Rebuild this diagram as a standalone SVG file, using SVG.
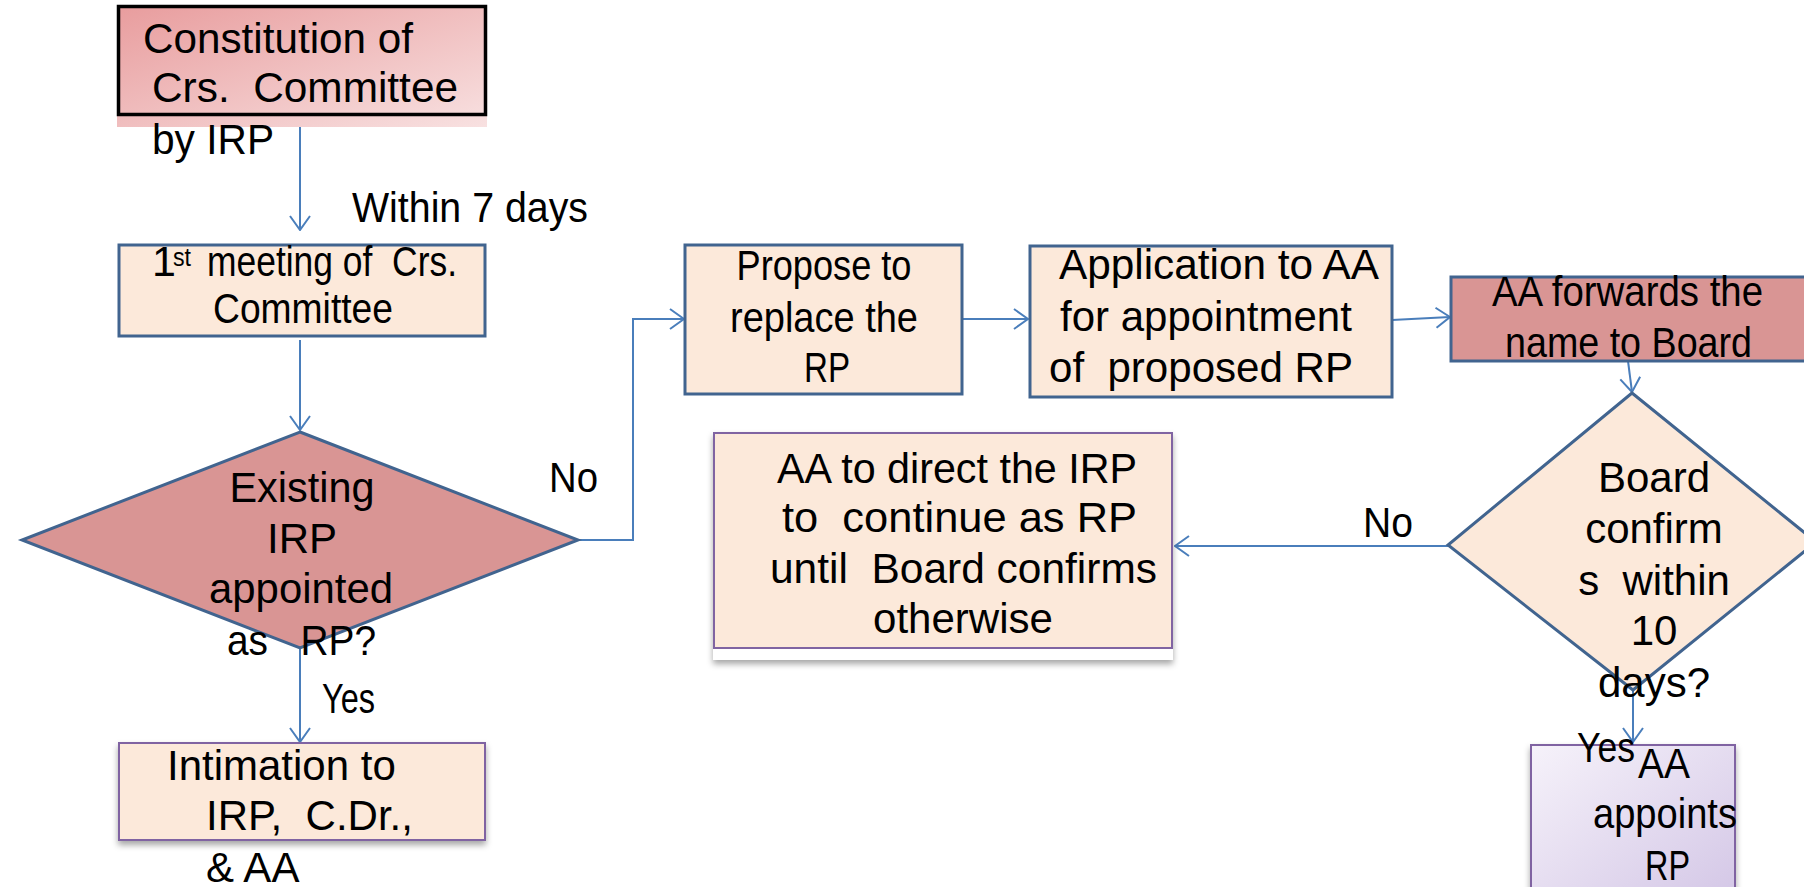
<svg xmlns="http://www.w3.org/2000/svg" width="1804" height="887" viewBox="0 0 1804 887">
<style>
text{font-family:"Liberation Sans",Arial,sans-serif;fill:#000;font-size:42px}
.c40{font-size:43px}
.mid{text-anchor:middle}
.conn{fill:none;stroke:#4a7ebb;stroke-width:2;marker-end:url(#arr)}
.peach{fill:#fce9da}
.blue{stroke:#41648f;stroke-width:3}
.purp{stroke:#8064a2;stroke-width:2}
.rose{fill:#d99594}
</style>
<defs>
<marker id="arr" viewBox="0 0 16 22" refX="15" refY="11" markerWidth="16" markerHeight="22" markerUnits="userSpaceOnUse" orient="auto">
<path d="M1,1 L15,11 L1,21" fill="none" stroke="#4a7ebb" stroke-width="2"/>
</marker>
<linearGradient id="gPink" x1="0" y1="0" x2="1" y2="1">
<stop offset="0" stop-color="#e89c9d"/>
<stop offset="1" stop-color="#f8e1e1"/>
</linearGradient>
<linearGradient id="gLav" x1="0" y1="0" x2="1" y2="1">
<stop offset="0" stop-color="#f6f2fa"/>
<stop offset="1" stop-color="#d3c6e6"/>
</linearGradient>
<filter id="sh" x="-10%" y="-10%" width="120%" height="130%">
<feDropShadow dx="0" dy="4" stdDeviation="3" flood-color="#000" flood-opacity="0.35"/>
</filter>
</defs>

<g id="connectors">
<path class="conn" d="M300,127 L300,230"/>
<path class="conn" d="M300,340 L300,430"/>
<path class="conn" d="M300,648 L300,742"/>
<path class="conn" d="M578,540 L633,540 L633,319 L684,319"/>
<path class="conn" d="M962,319 L1028,319"/>
<path class="conn" d="M1392,320 L1450,317"/>
<path class="conn" d="M1628,361 L1632,392"/>
<path class="conn" d="M1448,546 L1175,546"/>
<path class="conn" d="M1633,690 L1633,742"/>
</g>

<g id="constitution">
<rect x="117" y="5" width="370" height="122" fill="url(#gPink)"/>
<rect x="118.5" y="6.5" width="367" height="108" fill="none" stroke="#000" stroke-width="3.5"/>
<text x="143" y="53" textLength="270" lengthAdjust="spacingAndGlyphs">Constitution of</text>
<text x="152" y="102" textLength="306" lengthAdjust="spacingAndGlyphs">Crs.&#160; Committee</text>
<text x="152" y="154" textLength="122" lengthAdjust="spacingAndGlyphs">by IRP</text>
</g>

<g id="label-within">
<text x="352" y="222" textLength="236" lengthAdjust="spacingAndGlyphs">Within 7 days</text>
</g>

<g id="first-meeting">
<rect class="peach blue" x="119" y="245" width="366" height="91"/>
<text class="c40" x="152" y="276">1</text>
<text x="173" y="266" style="font-size:25px" textLength="18" lengthAdjust="spacingAndGlyphs">st</text>
<text class="c40" x="207" y="276" textLength="250" lengthAdjust="spacingAndGlyphs">meeting of&#160; Crs.</text>
<text class="c40 mid" x="303" y="323" textLength="180" lengthAdjust="spacingAndGlyphs">Committee</text>
</g>

<g id="decision-existing">
<polygon class="rose blue" points="300,432 578,540 300,648 22,540"/>
<text class="mid" x="302" y="502" textLength="145" lengthAdjust="spacingAndGlyphs">Existing</text>
<text class="mid" x="302" y="553">IRP</text>
<text class="mid" x="301" y="603" textLength="184" lengthAdjust="spacingAndGlyphs">appointed</text>
<text x="227" y="655" textLength="149" lengthAdjust="spacingAndGlyphs">as&#160;&#160; RP?</text>
</g>

<g id="label-yes1"><text class="c40" x="322" y="713" textLength="53" lengthAdjust="spacingAndGlyphs">Yes</text></g>
<g id="label-no1"><text class="c40" x="549" y="492" textLength="49" lengthAdjust="spacingAndGlyphs">No</text></g>

<g id="intimation">
<rect class="peach purp" x="119" y="743" width="366" height="97" filter="url(#sh)"/>
<text x="167" y="780">Intimation to</text>
<text x="206" y="830">IRP,&#160; C.Dr.,</text>
<text x="206" y="882">&amp; AA</text>
</g>

<g id="propose">
<rect class="peach blue" x="685" y="245" width="277" height="149"/>
<text class="c40 mid" x="824" y="280" textLength="175" lengthAdjust="spacingAndGlyphs">Propose to</text>
<text class="c40 mid" x="824" y="332" textLength="188" lengthAdjust="spacingAndGlyphs">replace the</text>
<text class="c40 mid" x="827" y="382" textLength="46" lengthAdjust="spacingAndGlyphs">RP</text>
</g>

<g id="application">
<rect class="peach blue" x="1030" y="246" width="362" height="151"/>
<text x="1059" y="279" textLength="320" lengthAdjust="spacingAndGlyphs">Application to AA</text>
<text x="1060" y="331">for appointment</text>
<text x="1049" y="382" textLength="304" lengthAdjust="spacingAndGlyphs">of&#160; proposed RP</text>
</g>

<g id="aa-forwards">
<rect class="rose blue" x="1451" y="277" width="365" height="84"/>
<text class="c40" x="1492" y="306" textLength="271" lengthAdjust="spacingAndGlyphs">AA forwards the</text>
<text class="c40" x="1505" y="357" textLength="247" lengthAdjust="spacingAndGlyphs">name to Board</text>
</g>

<g id="decision-board">
<polygon class="peach blue" points="1632,393 1816,542 1633,690 1448,545"/>
<text class="mid" x="1654" y="492">Board</text>
<text class="mid" x="1654" y="543">confirm</text>
<text class="mid" x="1654" y="595">s&#160; within</text>
<text class="mid" x="1654" y="645">10</text>
<text class="mid" x="1654" y="697">days?</text>
</g>

<g id="label-no2"><text class="c40" x="1363" y="537" textLength="50" lengthAdjust="spacingAndGlyphs">No</text></g>

<g id="aa-direct">
<rect x="713" y="432" width="460" height="228" fill="#fff" filter="url(#sh)"/>
<rect class="peach purp" x="714" y="433" width="458" height="215"/>
<text x="777" y="483" textLength="360" lengthAdjust="spacingAndGlyphs">AA to direct the IRP</text>
<text x="782" y="532" textLength="355" lengthAdjust="spacingAndGlyphs">to&#160; continue as RP</text>
<text x="770" y="583" textLength="387" lengthAdjust="spacingAndGlyphs">until&#160; Board confirms</text>
<text class="mid" x="963" y="633" textLength="180" lengthAdjust="spacingAndGlyphs">otherwise</text>
</g>

<g id="aa-appoints">
<rect x="1531" y="745" width="204" height="160" fill="url(#gLav)" class="purp" filter="url(#sh)"/>
<text class="c40" x="1638" y="778" textLength="52" lengthAdjust="spacingAndGlyphs">AA</text>
<text class="c40" x="1593" y="828" textLength="144" lengthAdjust="spacingAndGlyphs">appoints</text>
<text class="c40" x="1645" y="880" textLength="45" lengthAdjust="spacingAndGlyphs">RP</text>
</g>

<g id="label-yes2"><text class="c40" x="1577" y="762" textLength="58" lengthAdjust="spacingAndGlyphs">Yes</text></g>
</svg>
